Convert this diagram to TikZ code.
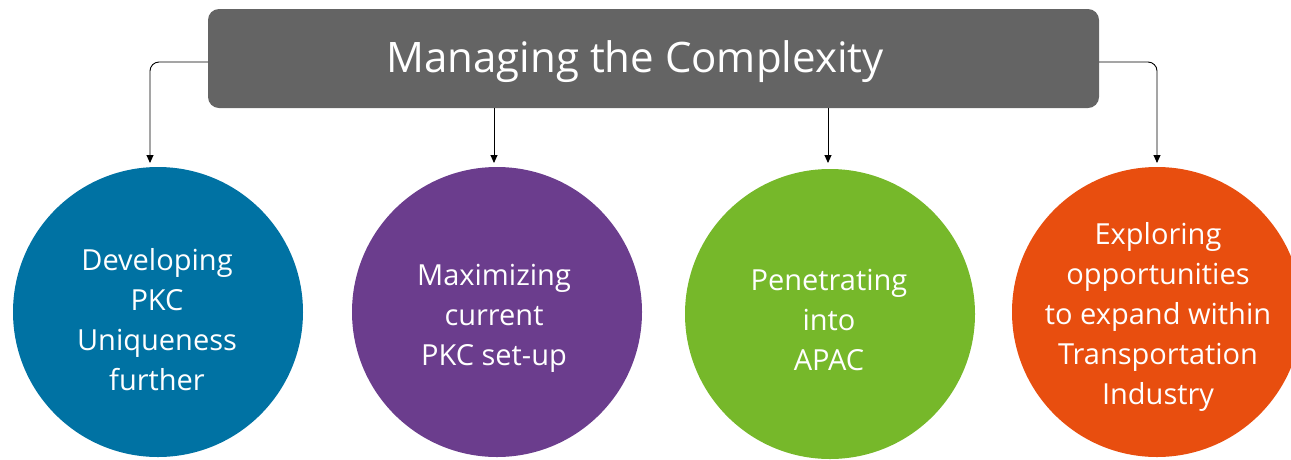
\documentclass[tikz,border=0pt]{standalone}
\usepackage{fontspec}
\setmainfont{Open Sans}
\usetikzlibrary{arrows.meta}
\definecolor{hdr}{HTML}{646464}
\definecolor{cblue}{HTML}{0072A3}
\definecolor{cpurple}{HTML}{6B3D8D}
\definecolor{cgreen}{HTML}{76B82A}
\definecolor{corange}{HTML}{E84E0F}
\tikzset{
  bubble/.style={circle, minimum size=290pt, inner sep=0pt},
  btext/.style={text=white, align=center, inner sep=0pt, font=\fontsize{29}{40}\selectfont},
  conn/.style={draw=black, line width=0.9pt, -{Triangle[length=8pt,width=7pt]}, rounded corners=9pt},
}
\begin{document}
\begin{tikzpicture}[x=1pt,y=-1pt]
\useasboundingbox (0,0) rectangle (1291,459);
\fill[hdr, rounded corners=11pt] (208,9) rectangle (1099,108);
\node[text=white, font=\fontsize{42}{48}\selectfont, anchor=center] (title) at (635,62) {Managing the Complexity};
\coordinate (hl) at (208,62);
\coordinate (hr) at (1099,62);
\coordinate (hb2) at (494,108);
\coordinate (hb3) at (828,108);
\coordinate (t1) at (150,163);
\coordinate (t2) at (494,163);
\coordinate (t3) at (828,163);
\coordinate (t4) at (1157,163);
\node[bubble, fill=cblue] (c1) at (158,312) {};
\node[bubble, fill=cpurple] (c2) at (497,312) {};
\node[bubble, fill=cgreen] (c3) at (830,314) {};
\node[bubble, fill=corange] (c4) at (1157,312) {};
\node[btext] (l1) at (157,320) {Developing\\PKC\\Uniqueness\\further};
\node[btext] (l2) at (494,318) {Maximizing\\current\\PKC set-up};
\node[btext] (l3) at (829,320) {Penetrating\\into\\APAC};
\node[btext] (l4) at (1158,317) {Exploring\\opportunities\\to expand within\\Transportation\\Industry};
\draw[conn] (hl) -| (t1);
\draw[conn] (hr) -| (t4);
\draw[conn] (hb2) -- (t2);
\draw[conn] (hb3) -- (t3);
\end{tikzpicture}
\end{document}
